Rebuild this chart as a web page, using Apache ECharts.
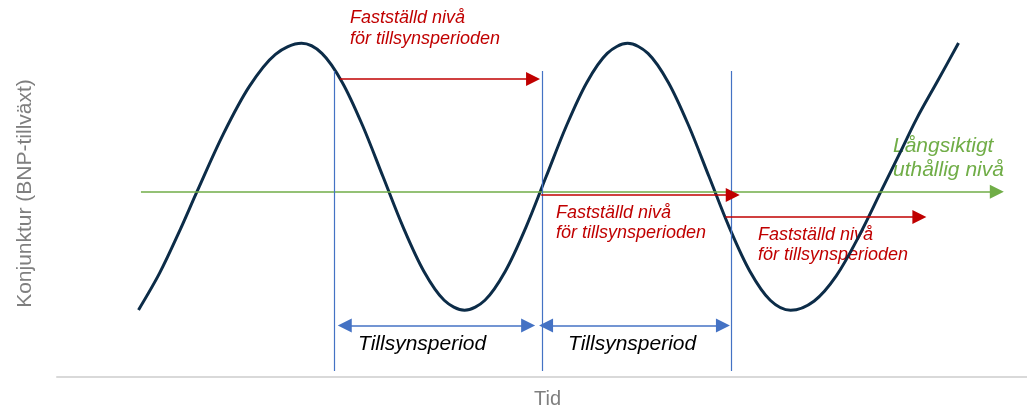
<!DOCTYPE html>
<html>
<head>
<meta charset="utf-8">
<script src="https://cdn.jsdelivr.net/npm/echarts@6/dist/echarts.min.js"></script>
<style>
html, body { margin: 0; padding: 0; background: #fff; }
#chart { width: 1027px; height: 410px; }
</style>
</head>
<body>
<div id="chart"></div>
<script>
// Konjunkturcykeln (tid i kvartscykler, konjunktur i godtyckliga enheter)
const cycleT = [0, 0.26, 0.51, 0.72, 1.04, 1.36, 1.68, 2,
    2.25, 2.5, 2.75, 3, 3.25, 3.5, 3.75, 4,
    4.25, 4.5, 4.75, 5, 5.25, 5.5, 5.75, 6,
    6.25, 6.5, 6.75, 7, 7.25, 7.5, 7.75, 8,
    8.29, 8.56, 8.84, 9.11, 9.34, 9.55, 9.81, 10.06];
const cycleY = [-1.49, -0.38, 0.91, 2.07, 3.78, 5.21, 6.17, 6.5,
    6.2, 5.33, 4.03, 2.5, 0.97, -0.33, -1.2, -1.5,
    -1.2, -0.33, 0.97, 2.5, 4.03, 5.33, 6.2, 6.5,
    6.2, 5.33, 4.03, 2.5, 0.97, -0.33, -1.2, -1.5,
    -1.22, -0.47, 0.73, 2.07, 3.21, 4.26, 5.4, 6.51];

// långsiktigt uthållig nivå
const trendLevel = 2.05;
const trendSpan = [0.03, 10.53];

// gränser för tillsynsperioderna
const periodBounds = [2.4, 4.95, 7.27];
const boundSpan = [-3.32, 5.67];
const periodArrows = [[2.53, 4.78], [5.0, 7.17]];
const periodArrowY = -1.96;

// fastställd nivå: [från, till, nivå]
const levelArrows = [[2.47, 4.84, 5.43], [4.94, 7.29, 1.955], [7.2, 9.58, 1.295]];

const chart = echarts.init(document.getElementById('chart'));

const red = '#c00000';
const blue = '#4472c4';
const green = '#70ad47';

let option = {
    animation: false,
    grid: {
        left: 57,
        right: 0,
        top: 10,
        bottom: 33,
        containLabel: false,
        outerBoundsMode: 'none'
    },
    xAxis: {
        type: 'value',
        min: -1,
        max: 10.9,
        name: 'Tid',
        nameLocation: 'middle',
        nameGap: 12,
        nameTextStyle: {
            color: '#7f7f7f',
            fontSize: 20,
            fontFamily: 'Liberation Sans',
            verticalAlign: 'top',
            padding: [0, 0, 0, 11]
        },
        axisLine: {
            show: true,
            onZero: false,
            lineStyle: { color: '#d9d9d9', width: 2 }
        },
        axisTick: { show: false },
        axisLabel: { show: false },
        splitLine: { show: false }
    },
    yAxis: {
        type: 'value',
        min: -3.5,
        max: 7.5,
        name: 'Konjunktur (BNP-tillväxt)',
        nameLocation: 'middle',
        nameGap: 21,
        nameTextStyle: {
            color: '#7f7f7f',
            fontSize: 21,
            fontFamily: 'Liberation Sans'
        },
        axisLine: { show: false },
        axisTick: { show: false },
        axisLabel: { show: false },
        splitLine: { show: false }
    },
    series: [
        {
            name: 'trend',
            type: 'line',
            data: [],
            silent: true,
            markLine: {
                silent: true,
                symbol: ['none', 'triangle'],
                symbolSize: 14,
                label: { show: false },
                lineStyle: { color: green, width: 1.5, type: 'solid' },
                data: [[
                    { coord: [trendSpan[0], trendLevel] },
                    { coord: [trendSpan[1], trendLevel] }
                ]]
            }
        },
        {
            name: 'bounds',
            type: 'line',
            data: [],
            silent: true,
            markLine: {
                silent: true,
                symbol: ['none', 'none'],
                label: { show: false },
                lineStyle: { color: blue, width: 1.2, type: 'solid' },
                data: periodBounds.map(t => [
                    { coord: [t, boundSpan[0]] },
                    { coord: [t, boundSpan[1]] }
                ])
            }
        },
        {
            name: 'periods',
            type: 'line',
            data: [],
            silent: true,
            markLine: {
                silent: true,
                symbol: ['triangle', 'triangle'],
                symbolSize: 14,
                label: { show: false },
                lineStyle: { color: blue, width: 1.5, type: 'solid' },
                data: periodArrows.map(p => [
                    { coord: [p[0], periodArrowY] },
                    { coord: [p[1], periodArrowY] }
                ])
            }
        },
        {
            name: 'levels',
            type: 'line',
            data: [],
            silent: true,
            markLine: {
                silent: true,
                symbol: ['none', 'triangle'],
                symbolSize: 14,
                label: { show: false },
                lineStyle: { color: red, width: 1.5, type: 'solid' },
                data: levelArrows.map(a => [
                    { coord: [a[0], a[2]] },
                    { coord: [a[1], a[2]] }
                ])
            }
        },
        {
            name: 'konjunktur',
            type: 'line',
            smooth: 0.33,
            showSymbol: false,
            silent: true,
            lineStyle: { color: '#0c2c48', width: 3 },
            data: cycleT.map((t, i) => [t, cycleY[i]])
        }
    ],
    graphic: [
        {
            type: 'text', left: 350, top: 7,
            style: { text: 'Fastställd nivå\nför tillsynsperioden', fill: red, font: 'italic 18px "Liberation Sans"', lineHeight: 21 }
        },
        {
            type: 'text', left: 556, top: 203,
            style: { text: 'Fastställd nivå\nför tillsynsperioden', fill: red, font: 'italic 18px "Liberation Sans"', lineHeight: 20 }
        },
        {
            type: 'text', left: 758, top: 225,
            style: { text: 'Fastställd nivå\nför tillsynsperioden', fill: red, font: 'italic 18px "Liberation Sans"', lineHeight: 20 }
        },
        {
            type: 'text', left: 893, top: 134,
            style: { text: 'Långsiktigt\nuthållig nivå', fill: green, font: 'italic 21px "Liberation Sans"', lineHeight: 24 }
        },
        {
            type: 'text', left: 358, top: 334,
            style: { text: 'Tillsynsperiod', fill: '#000', font: 'italic 21px "Liberation Sans"' }
        },
        {
            type: 'text', left: 568, top: 334,
            style: { text: 'Tillsynsperiod', fill: '#000', font: 'italic 21px "Liberation Sans"' }
        }
    ]
};

chart.setOption(option);
</script>
</body>
</html>
